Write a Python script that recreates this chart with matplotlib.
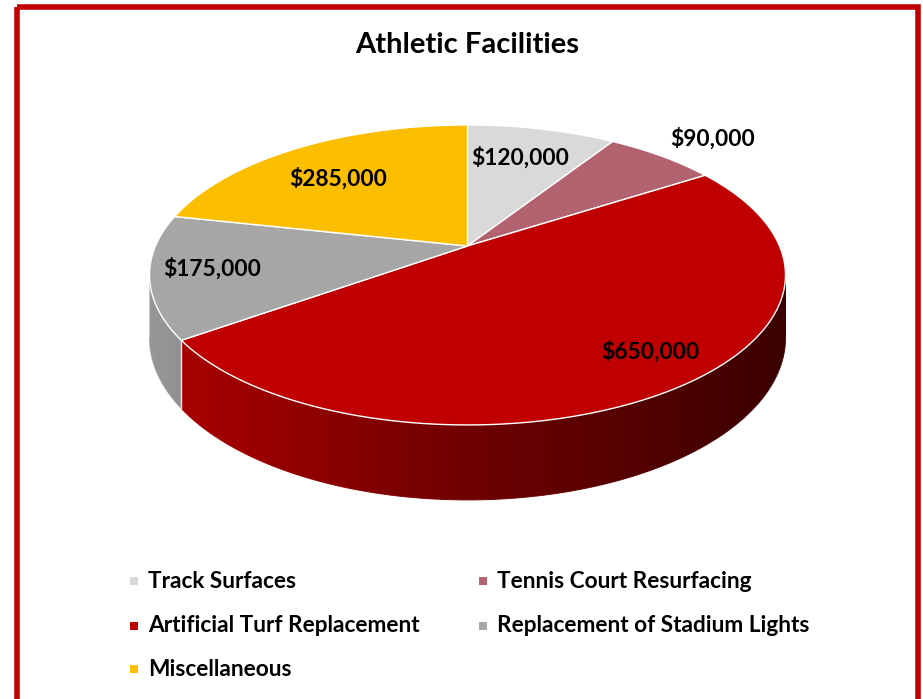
import numpy as np
import matplotlib
matplotlib.use("Agg")
import matplotlib.pyplot as plt
from matplotlib.patches import Polygon, Rectangle
from matplotlib.collections import LineCollection
from matplotlib.colors import to_rgb, LinearSegmentedColormap

# ---------------- data ----------------
title = "Athletic Facilities"
categories = ["Track Surfaces", "Tennis Court Resurfacing", "Artificial Turf Replacement",
              "Replacement of Stadium Lights", "Miscellaneous"]
values = [120000, 90000, 650000, 175000, 285000]
colors = ["#d9d9d9", "#b3626f", "#c00000", "#a6a6a6", "#fbbf00"]

# ---------------- layout ----------------
W, H = 923, 699
FONT = ["Lato", "DejaVu Sans"]
CX, CY = 467.5, 246.0      # pie centre (px)
SX, SY = 312.0, 144.4      # projected radii
P = 0.193                  # perspective strength
DEPTH = 60.5               # wall height
label_r = [0.72, 1.26, 0.82, 0.81, 0.69]
label_dphi = [1.0, -1.6, 4.6, -0.6, 2.6]

fig = plt.figure(figsize=(W / 100, H / 100), dpi=100)
ax = fig.add_axes([0, 0, 1, 1])
ax.axis("off")


def proj(phi, r=1.0, drop=0.0):
    X = r * np.cos(phi)
    Y = r * np.sin(phi)
    w = 1 + P * Y
    return CX + SX * X / w, CY - SY * Y / w + drop / w


vals = np.array(values, dtype=float)
frac = vals / vals.sum()
cum = np.concatenate([[0], np.cumsum(frac)]) * 360.0  # clockwise from top
phi0 = np.radians(90 - cum[:-1])
phi1 = np.radians(90 - cum[1:])

# visible wall range (front side)
vis_lo = np.radians(-180) + np.arcsin(P)
vis_hi = -np.arcsin(P)

GX0, GX1 = CX - SX * 1.05, CX + SX * 1.05


def shade(c, f):
    return tuple(np.clip(np.array(to_rgb(c)) * f, 0, 1))


grad = np.linspace(0, 1, 512)[None, :]

# ---- walls ----
for i in range(len(values)):
    a, b = sorted([phi0[i], phi1[i]])
    cmap = LinearSegmentedColormap.from_list(
        f"w{i}", [shade(colors[i], 0.92), shade(colors[i], 0.58), shade(colors[i], 0.30)])
    for k in (-2, -1, 0, 1):
        lo = max(a + 2 * np.pi * k, vis_lo)
        hi = min(b + 2 * np.pi * k, vis_hi)
        if hi <= lo:
            continue
        ph = np.linspace(lo, hi, 300)
        xt, yt = proj(ph)
        xb, yb = proj(ph, drop=DEPTH)
        poly = np.column_stack([np.r_[xt, xb[::-1]], np.r_[yt, yb[::-1]]])
        patch = Polygon(poly, closed=True, facecolor="none", edgecolor="none", zorder=2)
        ax.add_patch(patch)
        im = ax.imshow(grad, cmap=cmap, extent=(GX0, GX1, CY + SY * 3, CY - SY),
                       aspect="auto", interpolation="bilinear", zorder=2)
        im.set_clip_path(patch)
        # smooth outer edges (bottom curve + side edges) with matching colours
        ex = np.r_[xt[0], xb, xt[-1]]
        ey = np.r_[yt[0], yb, yt[-1]]
        segs = np.stack([np.column_stack([ex[:-1], ey[:-1]]),
                         np.column_stack([ex[1:], ey[1:]])], axis=1)
        segc = cmap(np.clip(((ex[:-1] + ex[1:]) / 2 - GX0) / (GX1 - GX0), 0, 1))
        ax.add_collection(LineCollection(segs, colors=segc, linewidths=0.7, zorder=2))

# wall separators at slice boundaries
for ph in phi0:
    phw = np.arctan2(np.sin(ph), np.cos(ph))
    if vis_lo < phw < vis_hi:
        xt, yt = proj(phw)
        xb, yb = proj(phw, drop=DEPTH)
        ax.plot([xt, xb], [yt, yb], color="#f4dede", lw=1.0, zorder=3)

# ---- top faces ----
for i in range(len(values)):
    ph = np.linspace(phi0[i], phi1[i], 200)
    xs, ys = proj(ph)
    poly = np.column_stack([np.r_[CX, xs], np.r_[CY, ys]])
    ax.add_patch(Polygon(poly, closed=True, facecolor=colors[i], edgecolor="white",
                         linewidth=1.0, joinstyle="round", zorder=4))

# ---- labels ----
for i in range(len(values)):
    mid = (phi0[i] + phi1[i]) / 2 + np.radians(label_dphi[i])
    lx, ly = proj(mid, r=label_r[i])
    ax.text(lx, ly, f"${values[i]:,.0f}", ha="center", va="center", fontsize=16.4,
            fontweight="bold", family=FONT, color="black", zorder=6)

# ---- title ----
ax.text(467.5, 45, title, ha="center", va="center", fontsize=21, fontweight="bold",
        family=FONT, color="black")

# ---- legend ----
order_pos = [(0, 0), (0, 1), (1, 0), (1, 1), (2, 0)]
col_x = [134, 483]
row_y = [581, 626, 669]
for i, (r, c) in enumerate(order_pos):
    x0, y0 = col_x[c], row_y[r]
    ax.add_patch(Rectangle((x0 - 4, y0 - 4), 8, 8, facecolor=colors[i], edgecolor="none"))
    ax.text(x0 + 14, y0, categories[i], ha="left", va="center", fontsize=16.3,
            fontweight="bold", family=FONT, color="black")

# ---- border ----
ax.add_patch(Rectangle((16.5, 6.5), 918 - 16.5, H + 20, facecolor="none",
                       edgecolor="#c00000", linewidth=4.0, zorder=10, clip_on=False))

ax.set_xlim(0, W)
ax.set_ylim(H, 0)
fig.savefig("out.png", dpi=100)
